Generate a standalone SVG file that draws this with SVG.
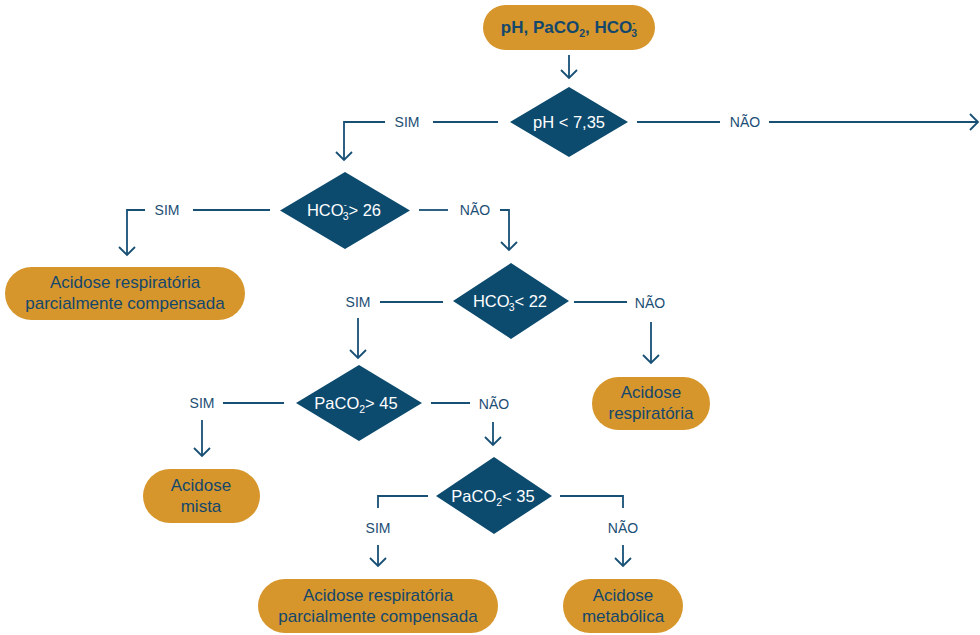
<svg xmlns="http://www.w3.org/2000/svg" width="980" height="635" viewBox="0 0 980 635">
  <style>
    .pill { fill: #d6962b; }
    .dia { fill: #0c4a6e; }
    .pt { font-family: "Liberation Sans", Arial, sans-serif; font-size: 17px; fill: #14476c; text-anchor: middle; }
    .dt { font-family: "Liberation Sans", Arial, sans-serif; font-size: 16.5px; fill: #ffffff; text-anchor: middle; }
    .lb { font-family: "Liberation Sans", Arial, sans-serif; font-size: 14px; fill: #1b4e74; text-anchor: middle; }
    .ln { fill: none; stroke: #174f75; stroke-width: 1.8; }
    .ar { fill: none; stroke: #174f75; stroke-width: 1.8; marker-end: url(#head); }
  </style>
  <defs>
    <marker id="head" markerUnits="userSpaceOnUse" viewBox="-10 -10 12 20" refX="0" refY="0" markerWidth="12" markerHeight="20" orient="auto" overflow="visible">
      <path d="M-8,-8 L0,0 L-8,8" fill="none" stroke="#174f75" stroke-width="1.8"/>
    </marker>
  </defs>

  <g id="connectors">
    <path class="ar" d="M569,55 V78"/>
    <path class="ln" d="M498,122 H433"/>
    <path class="ar" d="M385,122 H344 V160"/>
    <path class="ln" d="M637,122 H720"/>
    <path class="ar" d="M769,122 H978"/>
    <path class="ln" d="M270,210 H193"/>
    <path class="ar" d="M145,210 H127 V255"/>
    <path class="ln" d="M419,210 H448"/>
    <path class="ar" d="M500,210 H509 V250"/>
    <path class="ln" d="M443,302 H380"/>
    <path class="ar" d="M358,318 V358"/>
    <path class="ln" d="M574,302 H627"/>
    <path class="ar" d="M651,322 V363"/>
    <path class="ln" d="M284,403 H223"/>
    <path class="ar" d="M202,420 V456"/>
    <path class="ln" d="M431,403 H470"/>
    <path class="ar" d="M493,422 V445"/>
    <path class="ln" d="M428,496 H378 V508"/>
    <path class="ar" d="M378,545 V566"/>
    <path class="ln" d="M560,496 H623 V508"/>
    <path class="ar" d="M623,545 V566"/>
    <text class="lb" x="407" y="127">SIM</text>
    <text class="lb" x="745" y="127">NÃO</text>
    <text class="lb" x="167" y="215">SIM</text>
    <text class="lb" x="475" y="215">NÃO</text>
    <text class="lb" x="358" y="307">SIM</text>
    <text class="lb" x="650" y="308">NÃO</text>
    <text class="lb" x="202" y="408">SIM</text>
    <text class="lb" x="494" y="409">NÃO</text>
    <text class="lb" x="378" y="533">SIM</text>
    <text class="lb" x="623" y="533">NÃO</text>
  </g>

  <g id="start">
    <rect class="pill" x="483" y="5" width="172" height="45" rx="22.5"/>
    <text class="pt" x="569" y="33" font-weight="bold" font-size="17.5">pH, PaCO<tspan font-size="10.5" dy="4">2</tspan><tspan dy="-4">, HCO</tspan><tspan font-size="9" dy="-7">-</tspan><tspan font-size="10.5" dx="-4" dy="11">3</tspan></text>
  </g>

  <g id="ph">
    <polygon class="dia" points="569,87 628,122 569,157 510,122"/>
    <text class="dt" x="569" y="128">pH &lt; 7,35</text>
  </g>

  <g id="hco3-high">
    <polygon class="dia" points="345,172 410,210.5 345,249 280,210.5"/>
    <text class="dt" x="344" y="216">HCO<tspan font-size="9" dy="-8">-</tspan><tspan font-size="10.5" dx="-4" dy="12">3</tspan><tspan dy="-4">&gt; 26</tspan></text>
  </g>

  <g id="resp-partial-1">
    <rect class="pill" x="5" y="267" width="240" height="53" rx="26.5"/>
    <text class="pt" x="125" y="288">Acidose respiratória</text>
    <text class="pt" x="125" y="309">parcialmente compensada</text>
  </g>

  <g id="hco3-low">
    <polygon class="dia" points="511,263 569,301 511,339 453,301"/>
    <text class="dt" x="510" y="307">HCO<tspan font-size="9" dy="-8">-</tspan><tspan font-size="10.5" dx="-4" dy="12">3</tspan><tspan dy="-4">&lt; 22</tspan></text>
  </g>

  <g id="resp">
    <rect class="pill" x="592" y="377" width="118" height="53" rx="26.5"/>
    <text class="pt" x="651" y="398">Acidose</text>
    <text class="pt" x="651" y="419">respiratória</text>
  </g>

  <g id="paco2-high">
    <polygon class="dia" points="359,365 422,403 359,441 296,403"/>
    <text class="dt" x="356" y="409">PaCO<tspan font-size="10.5" dy="4">2</tspan><tspan dy="-4">&gt; 45</tspan></text>
  </g>

  <g id="mixed">
    <rect class="pill" x="143" y="469" width="117" height="54" rx="27"/>
    <text class="pt" x="201" y="491">Acidose</text>
    <text class="pt" x="201" y="512">mista</text>
  </g>

  <g id="paco2-low">
    <polygon class="dia" points="494,457 552,496 494,534 436,496"/>
    <text class="dt" x="493" y="502">PaCO<tspan font-size="10.5" dy="4">2</tspan><tspan dy="-4">&lt; 35</tspan></text>
  </g>

  <g id="resp-partial-2">
    <rect class="pill" x="258" y="579" width="240" height="54" rx="27"/>
    <text class="pt" x="378" y="601">Acidose respiratória</text>
    <text class="pt" x="378" y="622">parcialmente compensada</text>
  </g>

  <g id="metabolic">
    <rect class="pill" x="563" y="579" width="120" height="54" rx="27"/>
    <text class="pt" x="623" y="601">Acidose</text>
    <text class="pt" x="623" y="622">metabólica</text>
  </g>
</svg>
